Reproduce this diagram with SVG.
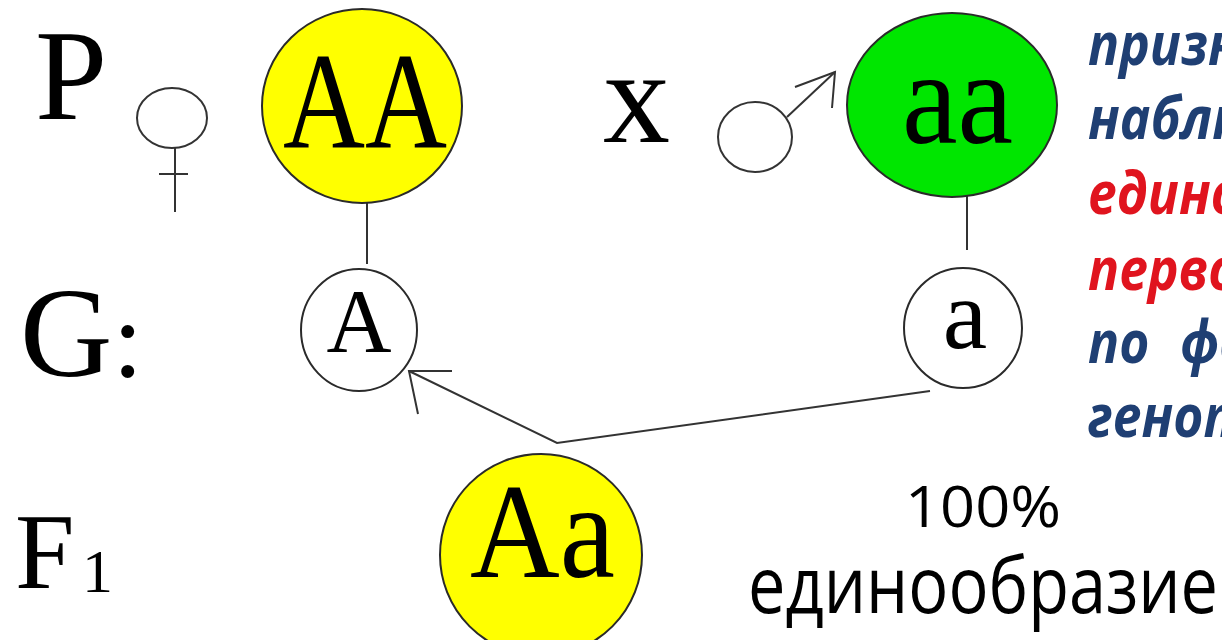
<svg xmlns="http://www.w3.org/2000/svg" width="1222" height="640" viewBox="0 0 1222 640">
<style>
.serif{font-family:"Liberation Serif","Times New Roman",serif;fill:#000}
.sans{font-family:"Open Sans","Noto Sans",sans-serif;fill:#000}
.rt{font-family:"Open Sans","Noto Sans",sans-serif;font-weight:bold;font-style:italic;font-size:60px}
.blue{fill:#1f3f73}
.red{fill:#e0141e}
.out{stroke:#2a2a2a;stroke-width:2}
.ln{stroke:#333;stroke-width:2;fill:none}
</style>
<rect width="1222" height="640" fill="#fff"/>
<g id="labels">
<text class="serif" x="35" y="119" font-size="130">P</text>
<text class="serif" x="603" y="142" font-size="134">x</text>
<text class="serif" x="20" y="376" font-size="128">G<tspan font-size="110">:</tspan></text>
<text class="serif" x="15" y="588" font-size="107">F</text>
<text class="serif" x="82" y="592" font-size="62">1</text>
</g>
<g id="female" class="ln">
<ellipse cx="172" cy="118" rx="35" ry="30"/>
<line x1="175" y1="148" x2="175" y2="212"/>
<line x1="159" y1="174" x2="188" y2="174"/>
</g>
<g id="male" class="ln">
<ellipse cx="755" cy="137" rx="37" ry="35"/>
<line x1="787" y1="117" x2="835" y2="72"/>
<polyline points="795,87 835,72 832,108"/>
</g>
<g id="connectors" class="ln">
<line x1="367" y1="163" x2="367" y2="264"/>
<line x1="967" y1="155" x2="967" y2="250"/>
<polyline points="930,391 557,443 409,371"/>
<polyline points="452,371 409,371 418,414"/>
</g>
<g id="node-AA">
<ellipse cx="362" cy="106" rx="100" ry="97" fill="#ffff00" class="out"/>
<text class="serif" x="283" y="147" font-size="138" textLength="164" lengthAdjust="spacingAndGlyphs">AA</text>
</g>
<g id="node-aa">
<ellipse cx="952" cy="105" rx="105" ry="92" fill="#00e600" class="out"/>
<text class="serif" x="902" y="143" font-size="134" textLength="111" lengthAdjust="spacingAndGlyphs">aa</text>
</g>
<g id="node-A">
<ellipse cx="359" cy="330" rx="58" ry="61" fill="#fff" class="out"/>
<text class="serif" x="359" y="352" font-size="90" text-anchor="middle">A</text>
</g>
<g id="node-a">
<ellipse cx="963" cy="328" rx="59" ry="60" fill="#fff" class="out"/>
<text class="serif" x="965" y="348" font-size="100" text-anchor="middle">a</text>
</g>
<g id="node-Aa">
<ellipse cx="541" cy="555" rx="101" ry="101" fill="#ffff00" class="out"/>
<text class="serif" x="470" y="577" font-size="135" textLength="145" lengthAdjust="spacingAndGlyphs">Aa</text>
</g>
<g id="result">
<text class="sans" x="905" y="527" font-size="56" textLength="156" lengthAdjust="spacingAndGlyphs">100%</text>
<text class="sans" x="748" y="613" font-size="78" textLength="470" lengthAdjust="spacingAndGlyphs">единообразие</text>
</g>
<g id="rule-text" transform="translate(1088,0) scale(0.86,1)">
<text class="rt blue" x="0" y="65">признаку,</text>
<text class="rt blue" x="0" y="139">наблюдается</text>
<text class="rt red" x="0" y="214">единообразие</text>
<text class="rt red" x="0" y="290">первого поколения</text>
<text class="rt blue" x="0" y="363" word-spacing="20">по фенотипу и</text>
<text class="rt blue" x="0" y="437">генотипу</text>
</g>
</svg>
